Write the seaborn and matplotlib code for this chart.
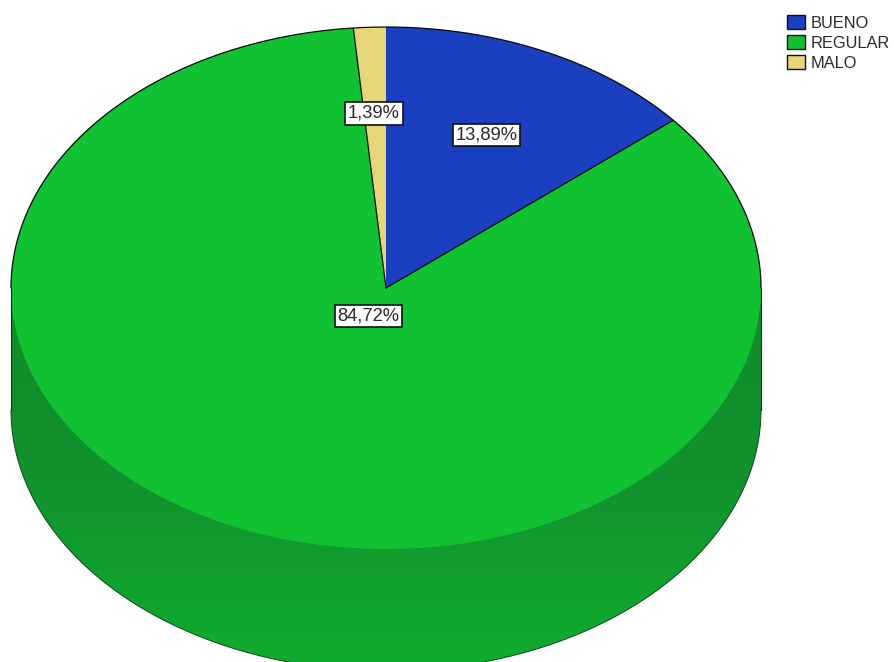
import numpy as np
import matplotlib
matplotlib.use('Agg')
import matplotlib.pyplot as plt
import seaborn as sns
from matplotlib.colors import LinearSegmentedColormap
from matplotlib.patches import Patch, Polygon

# Datos del grafico
categorias = ['BUENO', 'REGULAR', 'MALO']
porcentajes = [13.89, 84.72, 1.39]
colores = ['#1a3fc0', '#10c232', '#e6d67a']

sns.set_theme(style='white')
plt.rcParams['font.family'] = ['Liberation Sans', 'DejaVu Sans']

W, H = 895, 662
CX, CY, RX, RY = 386, 288, 375, 261
PROF = 122 / RY  # altura del cilindro


def px(x, y):
    return (x - CX) / RX, (CY - y) / RY


fig = plt.figure(figsize=(W / 100, H / 100), dpi=100)
ax = fig.add_axes([0, 0, 1, 1])

# Lateral del cilindro con degradado
t = np.radians(np.linspace(0, 180, 300))
lado = np.column_stack([np.r_[np.cos(t), -np.cos(t)],
                        np.r_[np.sin(t) * 0, -np.sin(t) - PROF]])
forma = Polygon(lado, closed=True, transform=ax.transData, fc='none', lw=0)
ax.add_patch(forma)
cmap = LinearSegmentedColormap.from_list('lado', ['#128a2c', '#12922e', '#10ad2e'])
img = ax.imshow(np.linspace(0, 1, 200).reshape(-1, 1), cmap=cmap, aspect='auto',
                extent=[-1, 1, -1 - PROF, 0], origin='upper', zorder=1)
img.set_clip_path(forma)

# Cara superior
cuñas, _ = ax.pie(porcentajes, colors=colores, startangle=90, counterclock=False,
                  radius=1, wedgeprops={'linewidth': 0})
for c in cuñas:
    c.set_zorder(2)

ax.set_aspect('auto')
ax.set_xlim(-CX / RX, (W - CX) / RX)
ax.set_ylim((CY - H) / RY, CY / RY)
ax.axis('off')

# Contornos
ax.plot(np.cos(t), np.sin(t), color='#0a0a0a', lw=0.9, zorder=3)
ax.plot(np.cos(t), -np.sin(t) - PROF, color='#0a4a1a', lw=0.7, zorder=3)
ax.plot([-1, -1], [0, -PROF], color='#0a3a15', lw=0.8, zorder=3)
ax.plot([1, 1], [0, -PROF], color='#0a3a15', lw=0.8, zorder=3)
for a in np.cumsum(porcentajes[:-1]):
    ang = np.radians(90 - a * 3.6)
    ax.plot([0, np.cos(ang)], [0, np.sin(ang)], color='#0a0a0a', lw=0.9, zorder=3)

# Etiquetas de porcentaje
pos_etiquetas = [(486.5, 135), (368.5, 316), (374, 113.5)]
for p, (x, y) in zip(porcentajes, pos_etiquetas):
    xd, yd = px(x, y)
    ax.text(xd, yd, f'{p:.2f}%'.replace('.', ','), ha='center', va='center',
            fontsize=13.2, color='#2a2a2a', zorder=5,
            bbox={'boxstyle': 'square,pad=0.16', 'fc': 'white', 'ec': '#111111', 'lw': 1.2})

# Leyenda
handles = [Patch(facecolor=c, edgecolor='#111111', lw=1) for c in colores]
fig.legend(handles, categorias, loc='upper left', bbox_to_anchor=(787 / W, 1 - 15 / H),
           frameon=False, fontsize=11.8, labelspacing=0.28, handlelength=1.1,
           handleheight=0.91, handletextpad=0.36, borderpad=0, borderaxespad=0,
           labelcolor='#2a2a2a')

fig.savefig('out.png', dpi=100)
